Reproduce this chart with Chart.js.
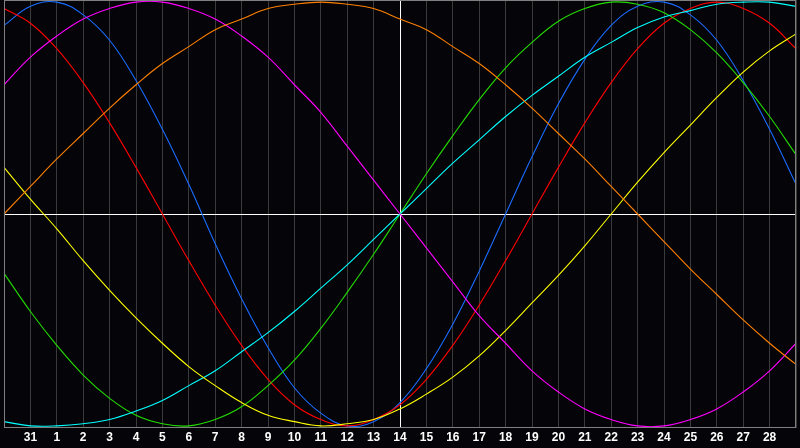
<!DOCTYPE html>
<html>
<head>
<meta charset="utf-8">
<script src="https://cdn.jsdelivr.net/npm/chart.js@4/dist/chart.umd.min.js"></script>
<style>
    html, body { margin: 0; padding: 0; background: #050408; }
    #wrap { width: 800px; height: 448px; position: relative; }
</style>
</head>
<body>
<div id="wrap"><canvas id="bioChart"></canvas></div>
<script>
// дни: первый и последний — края графика без подписи
const dayLabels = ['', '31', '1', '2', '3', '4', '5', '6', '7', '8', '9', '10', '11', '12', '13', '14',
    '15', '16', '17', '18', '19', '20', '21', '22', '23', '24', '25', '26', '27', '28', ''];

const physical = [0.89, 0.98, 1.00, 0.94, 0.82, 0.63, 0.40, 0.14, -0.14, -0.40, -0.63, -0.82, -0.94, -1.00, -0.98, -0.89,
    -0.73, -0.52, -0.27, 0.00, 0.27, 0.52, 0.73, 0.89, 0.98, 1.00, 0.94, 0.82, 0.63, 0.40, 0.14];
const emotional = [0.97, 0.90, 0.78, 0.62, 0.43, 0.22, 0.00, -0.22, -0.43, -0.62, -0.78, -0.90, -0.97, -1.00, -0.97, -0.90,
    -0.78, -0.62, -0.43, -0.22, 0.00, 0.22, 0.43, 0.62, 0.78, 0.90, 0.97, 1.00, 0.97, 0.90, 0.78];
const intellectual = [-0.28, -0.46, -0.62, -0.76, -0.87, -0.95, -0.99, -1.00, -0.97, -0.91, -0.81, -0.69, -0.54, -0.37, -0.19, 0.00,
    0.19, 0.37, 0.54, 0.69, 0.81, 0.91, 0.97, 1.00, 0.99, 0.95, 0.87, 0.76, 0.62, 0.46, 0.28];
const aesthetic = [0.22, 0.07, -0.07, -0.22, -0.36, -0.49, -0.61, -0.72, -0.81, -0.89, -0.95, -0.98, -1.00, -0.99, -0.97, -0.92,
    -0.85, -0.77, -0.67, -0.55, -0.42, -0.29, -0.15, 0.00, 0.15, 0.29, 0.42, 0.55, 0.67, 0.77, 0.85];
const awareness = [0.00, 0.13, 0.26, 0.38, 0.50, 0.61, 0.71, 0.79, 0.87, 0.92, 0.97, 0.99, 1.00, 0.99, 0.97, 0.92,
    0.87, 0.79, 0.71, 0.61, 0.50, 0.38, 0.26, 0.13, 0.00, -0.13, -0.26, -0.38, -0.50, -0.61, -0.71];
const intuition = [0.61, 0.74, 0.84, 0.92, 0.97, 1.00, 1.00, 0.97, 0.92, 0.84, 0.74, 0.61, 0.48, 0.32, 0.16, 0.00,
    -0.16, -0.32, -0.48, -0.61, -0.74, -0.84, -0.92, -0.97, -1.00, -1.00, -0.97, -0.92, -0.84, -0.74, -0.61];
const spiritual = [-0.98, -1.00, -1.00, -0.99, -0.97, -0.93, -0.88, -0.81, -0.74, -0.65, -0.56, -0.46, -0.35, -0.24, -0.12, 0.00,
    0.12, 0.24, 0.35, 0.46, 0.56, 0.65, 0.74, 0.81, 0.88, 0.93, 0.96, 0.99, 1.00, 1.00, 0.98];

const todayIndex = dayLabels.indexOf('14');

// рамка вокруг области графика
const framePlugin = {
    id: 'frame',
    afterDraw(chart) {
        const { ctx, chartArea } = chart;
        ctx.save();
        ctx.strokeStyle = '#7f7f7f';
        ctx.lineWidth = 1;
        ctx.strokeRect(chartArea.left + 0.5, chartArea.top + 0.5,
            chartArea.right - chartArea.left - 1, chartArea.bottom - chartArea.top - 1);
        ctx.restore();
    }
};

function line(label, data, color) {
    return {
        label: label,
        data: data,
        borderColor: color,
        borderWidth: 1.1,
        pointRadius: 0,
        tension: 0.4,
        fill: false
    };
}

window.renderBiorhythm = function (canvasId) {
    const canvas = document.getElementById(canvasId);
    if (!canvas) {
        console.error(`Canvas element with id ${canvasId} not found`);
        return null;
    }

    const config = {
        type: 'line',
        data: {
            labels: dayLabels,
            datasets: [
                line('Awareness', awareness, '#ff8000'),
                line('Intuition', intuition, '#ff00ff'),
                line('Aesthetic', aesthetic, '#ffff00'),
                line('Spiritual', spiritual, '#00ffff'),
                line('Intellectual', intellectual, '#22dd00'),
                line('Emotional', emotional, '#ff0000'),
                line('Physical', physical, '#1a6cff')
            ]
        },
        options: {
            responsive: true,
            maintainAspectRatio: false,
            animation: false,
            devicePixelRatio: 1,
            layout: { padding: 0 },
            plugins: {
                legend: { display: false },
                tooltip: { enabled: false }
            },
            scales: {
                x: {
                    offset: false,
                    border: { display: false },
                    grid: {
                        drawTicks: false,
                        color: (c) => c.index === todayIndex ? '#ffffff' : '#3a3a3a'
                    },
                    ticks: {
                        autoSkip: false,
                        maxRotation: 0,
                        padding: 4,
                        color: '#ffffff',
                        font: { family: 'Liberation Sans', size: 12, weight: 'bold', lineHeight: 1 }
                    }
                },
                y: {
                    min: -1.01,
                    max: 1.01,
                    border: { display: false },
                    grid: {
                        drawTicks: false,
                        color: (c) => c.tick && c.tick.value === 0 ? '#ffffff' : 'rgba(0,0,0,0)'
                    },
                    ticks: { display: false, stepSize: 0.5 }
                }
            }
        },
        plugins: [framePlugin]
    };

    return new Chart(canvas.getContext('2d'), config);
};

window.renderBiorhythm('bioChart');
</script>
</body>
</html>
